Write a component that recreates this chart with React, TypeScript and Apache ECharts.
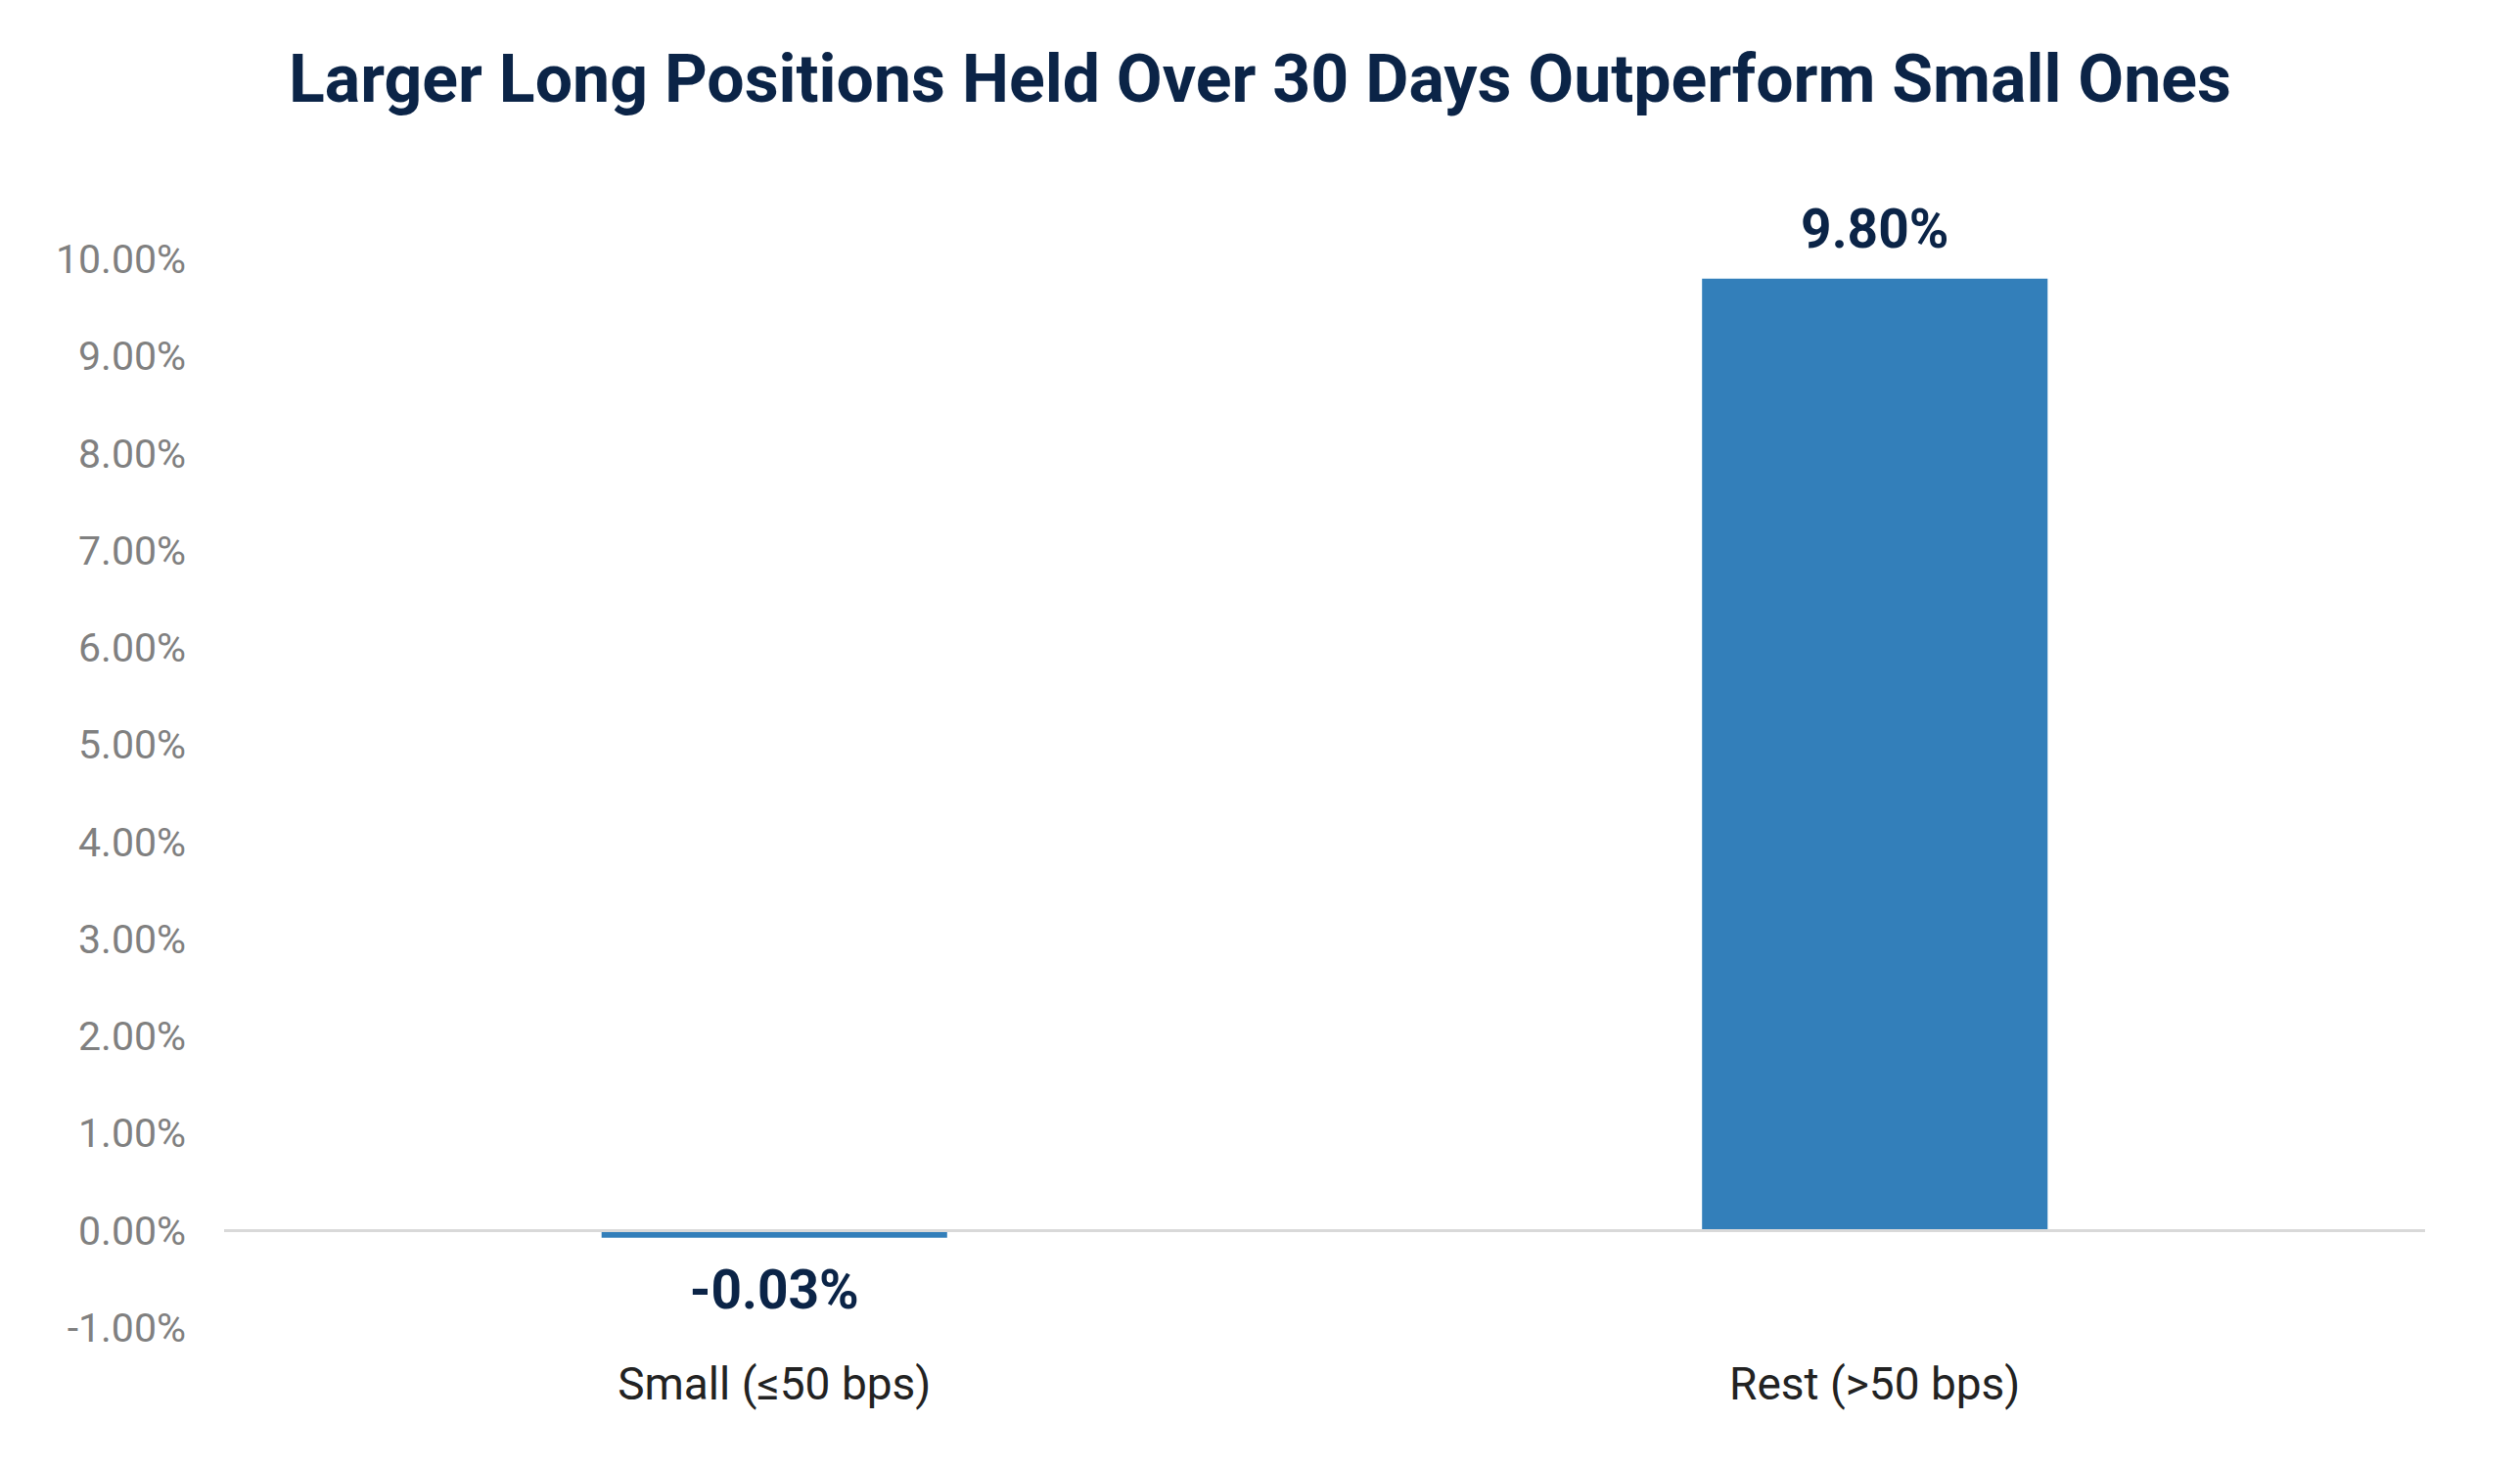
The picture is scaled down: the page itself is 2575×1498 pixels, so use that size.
import React, { useEffect, useRef } from "react";
import * as echarts from "echarts";

const TITLE = "Larger Long Positions Held Over 30 Days Outperform Small Ones";
const categories = ["Small (≤50 bps)", "Rest (>50 bps)"];
const values = [-0.03, 9.8];
const yMin = -1;
const yMax = 10;
const yStep = 1;

export default function App() {
  const ref = useRef<HTMLDivElement>(null);
  useEffect(() => {
    document.body.style.margin = "0";
    const chart = echarts.init(ref.current!, null, { renderer: "svg" });
    chart.setOption({
      animation: false,
      backgroundColor: "#ffffff",
      title: {
        text: TITLE,
        left: "center",
        top: 42,
        textStyle: {
          fontFamily: "Roboto",
          fontWeight: "bold",
          fontSize: 68,
          color: "#0b2447",
        },
      },
      grid: { left: 229, right: 97, top: 265, bottom: 141 },
      xAxis: {
        type: "category",
        data: categories,
        axisLine: { show: false, onZero: false },
        axisTick: { show: false },
        axisLabel: {
          margin: 34,
          fontFamily: "Roboto",
          fontSize: 46,
          color: "#222222",
        },
      },
      yAxis: {
        type: "value",
        min: yMin,
        max: yMax,
        interval: yStep,
        splitLine: { show: false },
        axisLine: { show: false },
        axisTick: { show: false },
        axisLabel: {
          margin: 39,
          fontFamily: "Roboto",
          fontSize: 41,
          color: "#808080",
          formatter: (v: number) => v.toFixed(2) + "%",
        },
      },
      series: [
        {
          type: "bar",
          data: values.map((v) => ({
            value: v,
            label: { position: v < 0 ? "bottom" : "top", distance: v < 0 ? 26 : 23 },
          })),
          barWidth: "31.4%",
          barMinHeight: 7,
          itemStyle: { color: "#337fba" },
          label: {
            show: true,
            fontFamily: "Roboto",
            fontWeight: "bold",
            fontSize: 55,
            color: "#0b2447",
            formatter: (p: any) => p.value.toFixed(2) + "%",
          },
          markLine: {
            silent: true,
            symbol: "none",
            label: { show: false },
            lineStyle: { color: "#d9d9d9", width: 3, type: "solid" },
            data: [{ yAxis: 0 }],
          },
        },
      ],
    });
    return () => chart.dispose();
  }, []);
  return <div ref={ref} style={{ width: 2575, height: 1498 }} />;
}
